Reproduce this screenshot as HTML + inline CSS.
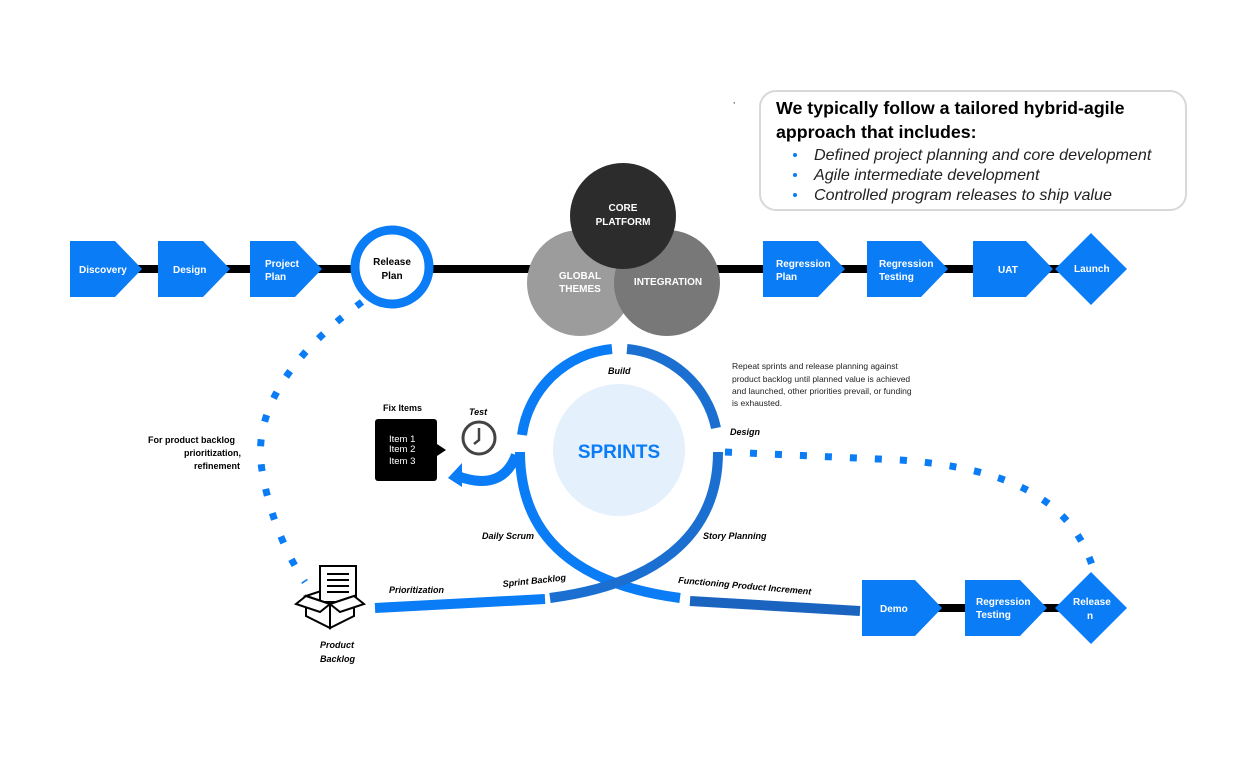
<!DOCTYPE html>
<html><head><meta charset="utf-8"><style>
body{margin:0;background:#fff;}
svg{display:block;font-family:"Liberation Sans",sans-serif;}
.w{fill:#fff;font-weight:bold;font-size:10px;}
.k{fill:#000;font-weight:bold;font-style:italic;font-size:9px;}
</style></head><body>
<svg width="1245" height="762" viewBox="0 0 1245 762" xmlns="http://www.w3.org/2000/svg">
<rect x="100" y="265" width="990" height="8" fill="#000"/>
<rect x="920" y="604" width="170" height="8" fill="#000"/>
<g fill="#0a7cf5">
<polygon points="70,241 115,241 142,269 115,297 70,297"/>
<polygon points="158,241 203,241 230,269 203,297 158,297"/>
<polygon points="250,241 295,241 322,269 295,297 250,297"/>
<polygon points="763,241 818,241 845,269 818,297 763,297"/>
<polygon points="867,241 921,241 948,269 921,297 867,297"/>
<polygon points="973,241 1026,241 1053,269 1026,297 973,297"/>
<polygon points="1091,233 1127,269 1091,305 1055,269"/>
<polygon points="862,580 915,580 942,608 915,636 862,636"/>
<polygon points="965,580 1020,580 1047,608 1020,636 965,636"/>
<polygon points="1091,572 1127,608 1091,644 1055,608"/>
</g>
<circle cx="392" cy="267" r="37" fill="#fff" stroke="#0a7cf5" stroke-width="9"/>
<g class="w">
<text x="79" y="273">Discovery</text>
<text x="173" y="273">Design</text>
<text x="265" y="267">Project</text><text x="265" y="280">Plan</text>
<text x="776" y="267">Regression</text><text x="776" y="280">Plan</text>
<text x="879" y="267">Regression</text><text x="879" y="280">Testing</text>
<text x="998" y="273">UAT</text>
<text x="1074" y="272">Launch</text>
<text x="880" y="612">Demo</text>
<text x="976" y="605">Regression</text><text x="976" y="618">Testing</text>
<text x="1073" y="605">Release</text><text x="1087" y="619">n</text>
</g>
<text x="392" y="265" text-anchor="middle" font-size="10" font-weight="bold">Release</text>
<text x="392" y="279" text-anchor="middle" font-size="10" font-weight="bold">Plan</text>
<circle cx="580" cy="283" r="53" fill="#9c9c9c"/>
<circle cx="667" cy="283" r="53" fill="#787878"/>
<circle cx="623" cy="216" r="53" fill="#2c2c2c"/>
<g class="w" font-size="9.5">
<text x="623" y="211" text-anchor="middle">CORE</text><text x="623" y="225" text-anchor="middle">PLATFORM</text>
<text x="580" y="279" text-anchor="middle">GLOBAL</text><text x="580" y="292" text-anchor="middle">THEMES</text>
<text x="668" y="285" text-anchor="middle">INTEGRATION</text>
</g>
<rect x="760" y="91" width="426" height="119" rx="16" fill="#fff" stroke="#d8d8d8" stroke-width="2"/>
<text x="776" y="114" font-size="17.8" font-weight="bold">We typically follow a tailored hybrid-agile</text>
<text x="776" y="138" font-size="17.8" font-weight="bold">approach that includes:</text>
<g font-size="16.1" font-style="italic" fill="#222">
<text x="814" y="160">Defined project planning and core development</text>
<text x="814" y="180">Agile intermediate development</text>
<text x="814" y="200">Controlled program releases to ship value</text>
</g>
<g fill="#0a7cf5"><circle cx="795" cy="155" r="2"/><circle cx="795" cy="175" r="2"/><circle cx="795" cy="195" r="2"/></g>
<path d="M362,302 C310,340 250,400 262,470 C270,520 290,560 305,582" fill="none" stroke="#0a7cf5" stroke-width="7" stroke-dasharray="7 18"/>
<path d="M725,452 L900,460 C1010,468 1070,500 1092,565" fill="none" stroke="#0a7cf5" stroke-width="7" stroke-dasharray="7 18"/>
<circle cx="619" cy="450" r="66" fill="#e4f0fc"/>
<text x="619" y="458" text-anchor="middle" font-size="19" font-weight="bold" fill="#0a7cf5">SPRINTS</text>
<g fill="none" stroke="#0a7cf5" stroke-width="10">
<path d="M522,435 A100,100 0 0 1 612,349"/>
<path d="M627,349 A100,100 0 0 1 716,428" stroke="#1a6fd0"/>
<path d="M520,452 C520,540 580,585 680,598" />
<path d="M690,601 L860,611" stroke="#1a64c0"/>
<path d="M718,452 C718,540 650,585 550,598" stroke="#1a6fd0"/>
<path d="M545,599 L375,608"/>
<path d="M516,455 C505,485 480,485 455,475"/>
</g>
<polygon points="448,478 462,463 462,487" fill="#0a7cf5"/>
<g class="k">
<text x="608" y="374">Build</text>
<text x="730" y="435">Design</text>
<text x="469" y="415">Test</text>
<text x="482" y="539">Daily Scrum</text>
<text x="703" y="539">Story Planning</text>
<text x="389" y="593">Prioritization</text>
<text x="503" y="587" transform="rotate(-6 503 587)">Sprint Backlog</text>
<text x="678" y="583" transform="rotate(5 678 583)">Functioning Product Increment</text>
<text x="320" y="648">Product</text><text x="320" y="662">Backlog</text>
<text x="148" y="443" font-style="normal">For product backlog</text>
<text x="184" y="456" font-style="normal">prioritization,</text>
<text x="194" y="469" font-style="normal">refinement</text>
</g>
<g font-size="8.5" fill="#222">
<text x="732" y="369">Repeat sprints and release planning against</text>
<text x="732" y="382">product backlog until planned value is achieved</text>
<text x="732" y="394">and launched, other priorities prevail, or funding</text>
<text x="732" y="406">is exhausted.</text>
</g>
<text x="383" y="411" font-size="9" font-weight="bold">Fix Items</text>
<rect x="375" y="419" width="62" height="62" rx="3" fill="#000"/>
<polygon points="437,444 446,450 437,456" fill="#000"/>
<g fill="#fff" font-size="9.5"><text x="389" y="442">Item 1</text><text x="389" y="452">Item 2</text><text x="389" y="464">Item 3</text></g>
<circle cx="479" cy="438" r="16" fill="#fff" stroke="#444" stroke-width="3"/>
<path d="M479,428 L479,440 L474,444" fill="none" stroke="#444" stroke-width="2.5"/>
<g fill="#fff" stroke="#000" stroke-width="2">
<polygon points="306,596 330,588 354,596 330,604"/>
<rect x="320" y="566" width="36" height="36"/>
<polygon points="306,596 330,604 330,628 306,616"/>
<polygon points="330,604 354,596 354,616 330,628"/>
<polygon points="306,596 296,604 320,612 330,604"/>
<polygon points="354,596 364,604 340,612 330,604"/>
</g>
<g stroke="#000" stroke-width="2"><line x1="327" y1="574" x2="349" y2="574"/><line x1="327" y1="580" x2="349" y2="580"/><line x1="327" y1="586" x2="349" y2="586"/><line x1="327" y1="592" x2="349" y2="592"/></g>
<text x="733" y="103" font-size="8">,</text>
</svg>
</body></html>
